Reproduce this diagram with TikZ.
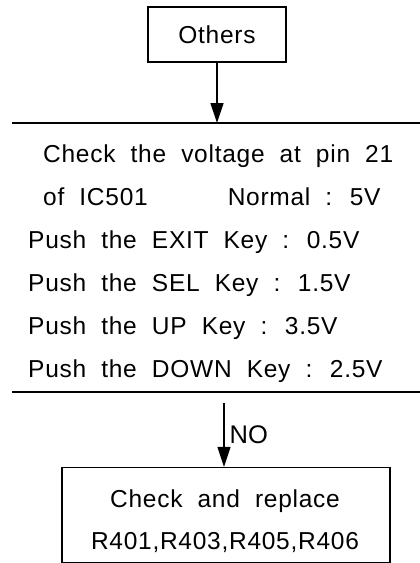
\documentclass[tikz,border=0pt]{standalone}
\usepackage{fontspec}
\setmainfont{Liberation Sans}[LetterSpace=3,WordSpace=2]
\usepackage{tikz}
\usetikzlibrary{arrows.meta,positioning,calc}

\begin{document}
\begin{tikzpicture}[x=1pt, y=-1pt,
    txt/.style={font=\fontsize{24.5}{43}\selectfont, inner sep=0pt},
    boxed/.style={draw, line width=1.3pt, inner sep=0pt},
    rule/.style={line width=1.8pt},
    flow/.style={line width=1.3pt, -{Triangle[length=20pt,width=13pt]}}]
    \useasboundingbox (0,0) rectangle (420,563);
    % 上方方框
    \node[boxed, txt, minimum width=138pt, minimum height=55pt] (others) at (217,34.5) {Others};
    % 两条横线
    \coordinate (topL) at (12,123);
    \coordinate (topR) at (420,123);
    \coordinate (botL) at (12,392);
    \coordinate (botR) at (420,392);
    \draw[rule] (topL) -- (topR);
    \draw[rule] (botL) -- (botR);
    \draw[flow] (others.south) -- (others.south |- topL);
    % 检查电压
    \node[txt, align=left, anchor=north west] (check) at (28,145) {%
        \hspace*{15pt}Check the voltage at pin 21\\
        \hspace*{15pt}of IC501\hspace{80pt}Normal : 5V\\
        Push the EXIT Key : 0.5V\\
        Push the SEL Key : 1.5V\\
        Push the UP Key : 3.5V\\
        Push the DOWN Key : 2.5V};
    % 下方方框
    \node[boxed, minimum width=328pt, minimum height=95pt] (replace) at (226,515) {};
    \node[txt, align=center, font=\fontsize{24.5}{42}\selectfont] (replacetxt) at (225,521)
        {Check and replace\\R401,R403,R405,R406};
    \coordinate (noTop) at (224,403);
    \draw[flow] (noTop) -- (noTop |- replace.north)
        node[txt, pos=0.5, right=5pt, font=\fontsize{25.5}{30}\selectfont\addfontfeatures{LetterSpace=0}] (no) {NO};
\end{tikzpicture}
\end{document}
